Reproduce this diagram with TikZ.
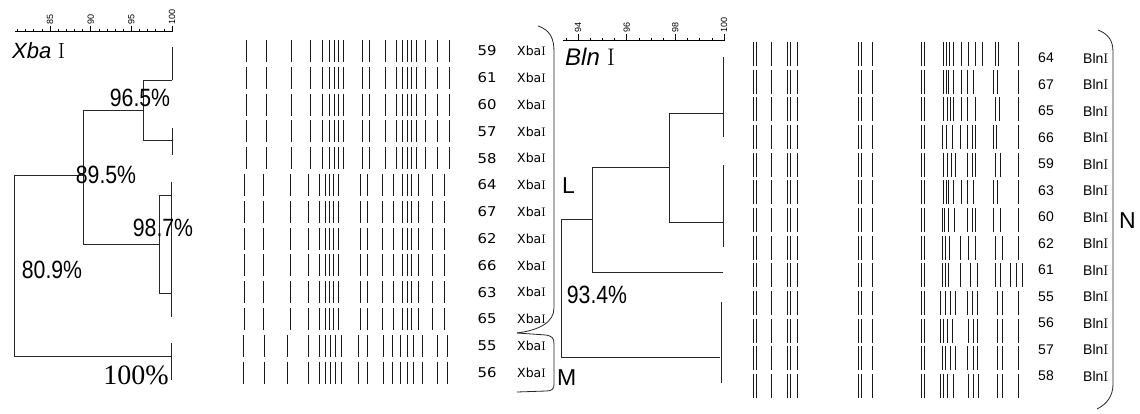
\documentclass[tikz,border=0pt]{standalone}
\usepackage{fontspec}
\newfontfamily\las{Liberation Sans}
\newfontfamily\dvs{DejaVu Sans}
\newfontfamily\lsf{Liberation Serif}
\begin{document}
\begin{tikzpicture}[x=1pt,y=-1pt,
  tree/.style={line width=0.8pt,black!85},
  band/.style={line width=0.8pt,black!90},
  tickline/.style={line width=0.6pt},
  pct/.style={font=\las\fontsize{25}{25}\selectfont,xscale=0.85,inner sep=0},
  rlab/.style={font=\las\fontsize{9}{9}\selectfont,rotate=90,anchor=west,inner sep=0},
  xnum/.style={font=\dvs\fontsize{13.5}{14}\selectfont,inner sep=0},
  xlab/.style={anchor=west,inner sep=0,font=\dvs\fontsize{12.5}{12.5}\selectfont},
  bnum/.style={font=\las\fontsize{14}{14}\selectfont,inner sep=0},
  blab/.style={anchor=west,inner sep=0,font=\las\fontsize{14}{14}\selectfont},
  big/.style={font=\las\fontsize{23}{23}\selectfont,inner sep=0}
]
\useasboundingbox (0,0) rectangle (1140,413);

% ---------- XbaI ruler ----------
\draw[tickline] (15,31.5) -- (173,31.5);
\foreach \v in {81,...,100} {
  \pgfmathsetmacro\xx{172-(100-\v)*8.13}
  \draw[tickline] (\xx,31.5) -- (\xx,29);
}
\foreach \v in {85,90,95,100} {
  \pgfmathsetmacro\xx{172-(100-\v)*8.13}
  \draw[tickline] (\xx,31.5) -- (\xx,26);
  \node[rlab] (xr\v) at (\xx,25) {\v};
}
\node[anchor=base west,inner sep=0,font=\fontsize{22}{22}\selectfont] (xtitle) at (12,58) {{\las\itshape Xba} I};

% ---------- XbaI dendrogram ----------
\draw[tree] (14,175) -- (83,175);
\draw[tree] (14,175) -- (14,356) -- (172,356);
\draw[tree] (83,110) -- (83,244);
\draw[tree] (83,110) -- (143,110);
\draw[tree] (172,80) -- (143,80) -- (143,140) -- (172,140);
\draw[tree] (172,47) -- (172,80);
\draw[tree] (172,128) -- (172,155);
\draw[tree] (83,244) -- (159,244);
\draw[tree] (171,195) -- (159,195) -- (159,293) -- (171,293);
\draw[tree] (171,182) -- (171,317);
\draw[tree] (171,343) -- (171,380);

\node[pct] (p965) at (140,98) {96.5\%};
\node[pct] (p895) at (106,175) {89.5\%};
\node[pct] (p987) at (163,228) {98.7\%};
\node[pct] (p809) at (52,270) {80.9\%};
\node[inner sep=0,font=\lsf\fontsize{28}{28}\selectfont] (p100) at (136,375) {100\%};

% ---------- XbaI gel ----------
\foreach \y in {51,77.8,104.6,131.4,158.2}
  \foreach \b in {246,266,291,310,322,329,334,338,343,362,369,385,396,402,407,411,416,425,437,449}
    \draw[band] (\b,\y-11) -- (\b,\y+11);
\foreach \y in {185,211.8,238.6,265.4,292.2,319}
  \foreach \b in {244,263,290,308,319,325,329,333,338,360,367,382,393,402,407,411,418,432,444}
    \draw[band] (\b,\y-11) -- (\b,\y+11);
\foreach \y in {345.8,372.6}
  \foreach \b in {243,264,287,308,319,325,330,335,341,358,367,383,392,400,407,413,422,437,447}
    \draw[band] (\b,\y-11) -- (\b,\y+11);

\foreach \y/\n [count=\i] in {51/59,77.8/61,104.6/60,131.4/57,158.2/58,185/64,211.8/67,238.6/62,265.4/66,292.2/63,319/65,345.8/55,372.6/56} {
  \node[xnum,xscale=1.1] (xn\i) at (487,\y) {\n};
  \node[xlab] (xl\i) at (517,\y) {Xba{\rmfamily I}};
}

% braces L and M
\draw[tree] (538,26) .. controls (550,30) and (554,38) .. (554,52) -- (554,308) .. controls (554,322) and (540,330) .. (517,333);
\draw[tree] (517,333) -- (546,335) .. controls (552,336) and (554,338) .. (554,344) -- (554,384) .. controls (554,389) and (552,391) .. (546,391) -- (517,392);
\node[big,anchor=west] (L) at (562,186) {L};
\node[big,anchor=west] (M) at (557,378) {M};

% ---------- BlnI ruler ----------
\draw[tickline] (563,40) -- (725,40);
\foreach \v in {93.5,94,...,100} {
  \pgfmathsetmacro\xx{724-(100-\v)*24.33}
  \draw[tickline] (\xx,40) -- (\xx,37.5);
}
\foreach \v in {94,96,98,100} {
  \pgfmathsetmacro\xx{724-(100-\v)*24.33}
  \draw[tickline] (\xx,40) -- (\xx,34);
  \node[rlab] (br\v) at (\xx,33) {\v};
}
\node[anchor=base west,inner sep=0,font=\fontsize{24}{24}\selectfont] (btitle) at (565,65) {{\las\itshape Bln} I};

% ---------- BlnI dendrogram ----------
\draw[tree] (723,57) -- (723,137);
\draw[tree] (723,165) -- (723,247);
\draw[tree] (723,113) -- (669,113) -- (669,222) -- (723,222);
\draw[tree] (669,167) -- (592,167) -- (592,272) -- (723,272);
\draw[tree] (592,219) -- (561,219) -- (561,357) -- (720,357);
\draw[tree] (721,302) -- (721,383);
\node[pct] (p934) at (597,295) {93.4\%};

% ---------- BlnI gel ----------
\foreach \y in {54,81.7,109.3,137,164.7,192.3,220,247.7,275.3,303,330.7,358.3,386}
  \foreach \b in {753.5,756,771.5,787.5,790.5,797,858,861,872,921.5,924}
    \draw[band] (\b,\y-12) -- (\b,\y+12);
\foreach \y/\lst in {
  54/{943,946,949,953,961,968,975,982,995,998,1018},
  81.7/{943,946,948,953,961,967,973,993,997,1018},
  109.3/{943,947,950,953,961,967,975,995,999,1018},
  137/{942,946,952,960,967,972,975,993,996,1018},
  164.7/{943,947,951,955,967,972,975,995,1000,1018},
  192.3/{943,946,948,953,961,967,973,993,997,1018},
  220/{942,944,948,954,967,972,975,993,1000,1018},
  247.7/{942,945,949,960,968,975,995,1002,1018},
  275.3/{942,945,948,960,970,977,995,1000,1010,1016,1022},
  303/{940,945,950,955,967,972,977,997,1002,1018},
  330.7/{940,943,947,952,968,973,977,997,1002,1018},
  358.3/{942,945,950,955,967,973,977,997,1002,1018},
  386/{940,943,947,953,968,973,978,997,1002,1018}}
  \foreach \b in \lst
    \draw[band] (\b,\y-12) -- (\b,\y+12);

\foreach \y/\n [count=\i] in {58/64,84.5/67,111/65,137.5/66,164/59,190.5/63,217/60,243.5/62,270/61,296.5/55,323/56,349.5/57,376/58} {
  \node[bnum] (bn\i) at (1046,\y) {\n};
  \node[blab] (bl\i) at (1083,\y) {Bln{\rmfamily I}};
}

% brace N
\draw[tree] (1098,30) .. controls (1108,34) and (1113,40) .. (1113,52) -- (1113,384) .. controls (1113,396) and (1107,404) .. (1097,409);
\node[big,anchor=west] (N) at (1119,221) {N};
\end{tikzpicture}
\end{document}
